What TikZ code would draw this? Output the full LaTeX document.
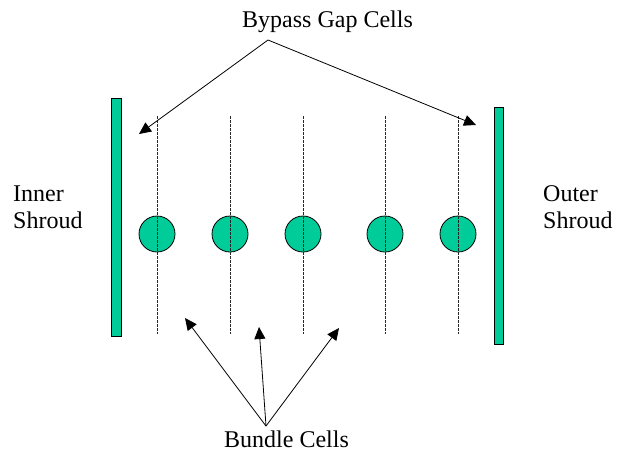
\documentclass[tikz,border=0pt]{standalone}
\usepackage{fontspec}
\setmainfont{Liberation Serif}
\usetikzlibrary{positioning, arrows.meta}
\definecolor{shroudcolor}{RGB}{0,204,153}
\newcommand{\pinfill}{shroudcolor}

\begin{document}
\begin{tikzpicture}[
      % GLOBAL CFG
      x=1pt, y=-1pt,
      font=\fontsize{24}{27}\selectfont,
      >={Triangle[length=12pt,width=11pt]},
      % Styles
      shroud/.style={% For the shroud walls
        rectangle,
        draw,
        line width=0.8pt,
        fill=shroudcolor
      },
      pin/.style={% For the pins
        circle,
        draw,
        line width=0.8pt,
        fill=\pinfill,
        minimum size=36pt,
        inner sep=0pt
      },
      cellline/.style={% Dashed cell borders
        dash pattern=on 2.5pt off 1.5pt,
        line width=0.8pt,
        black!85
      },
      label/.style={% For texts
        inner sep=0pt,
        align=left
      },
      pointer/.style={% Arrows to the cells
        line width=0.8pt,
        ->
      }
      ]
      \useasboundingbox (0,0) rectangle (617,456);

      % The two shrouds
      \draw [shroud] (111,98) rectangle (121,336);
      \draw [shroud] (494,107) rectangle (503,344);
      \node [label, anchor=west] (inner) at (13,207) {Inner\\Shroud};
      \node [label, anchor=west] (outer) at (543,207) {Outer\\Shroud};

      % Pins and cell borders
      \foreach \i/\x in {1/157, 2/230, 3/303, 4/385, 5/458} {
        \node [pin] (pin\i) at (\x,234) {};
        \coordinate (top\i) at (\x,116);
        \coordinate (bot\i) at (\x,334);
        \draw [cellline] (top\i) -- (bot\i);
      }

      % Bypass gap cells
      \node [label, anchor=base west] (bypass) at (242,27) {Bypass Gap Cells};
      \coordinate (bypassfoot) at (268,40);
      \coordinate (gapin) at (139,134);
      \coordinate (gapout) at (476,125);
      \draw [pointer] (bypassfoot) -- (gapin);
      \draw [pointer] (bypassfoot) -- (gapout);

      % Bundle cells
      \node [label, anchor=base west] (bundle) at (224,447) {Bundle Cells};
      \coordinate (bundlefoot) at (266,426);
      \coordinate (cellA) at (185,318);
      \coordinate (cellB) at (259,327);
      \coordinate (cellC) at (339,328);
      \draw [pointer] (bundlefoot) -- (cellA);
      \draw [pointer] (bundlefoot) -- (cellB);
      \draw [pointer] (bundlefoot) -- (cellC);

    \end{tikzpicture}
\end{document}
